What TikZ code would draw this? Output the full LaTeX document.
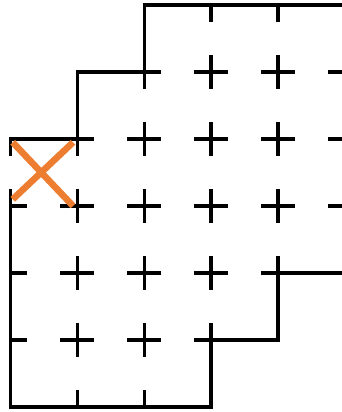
\documentclass[tikz,border=0pt]{standalone}
\usepackage{tikz}
\definecolor{markorange}{RGB}{237,125,49}
\tikzset{
  wall/.style={line width=1.3pt, black, line join=miter},
  gridtick/.style={line width=1.3pt, black},
  markcross/.style={line width=2.8pt, markorange}
}

\begin{document}
\begin{tikzpicture}
  \useasboundingbox (-0.15,-6.075) rectangle (4.955,0.075);
  \clip (-0.15,-6.075) rectangle (4.955,0.075);

  %% Grid crosses, only inside the room
  \begin{scope}
    \clip (2,0) -- (6,0) -- (6,-4) -- (4,-4) -- (4,-5) -- (3,-5) -- (3,-6)
          -- (0,-6) -- (0,-2) -- (1,-2) -- (1,-1) -- (2,-1) -- cycle;
    \foreach \x in {0,...,5}
      \foreach \y in {0,...,6}{
        \draw[gridtick] (\x-0.25,-\y) -- (\x+0.25,-\y);
        \draw[gridtick] (\x,-\y-0.25) -- (\x,-\y+0.25);
      }
  \end{scope}

  %% Outer wall (open on the left between rows 2 and 3)
  \draw[wall] (0,-2.25) -- (0,-2) -- (1,-2) -- (1,-1) -- (2,-1) -- (2,0) -- (6,0);
  \draw[wall] (0,-2.75) -- (0,-6) -- (3,-6) -- (3,-5) -- (4,-5) -- (4,-4) -- (6,-4);

  %% Marked cell
  \draw[markcross] (0.04,-2.05) -- (0.94,-3.0);
  \draw[markcross] (0.94,-2.05) -- (0.04,-2.9);
\end{tikzpicture}
\end{document}
